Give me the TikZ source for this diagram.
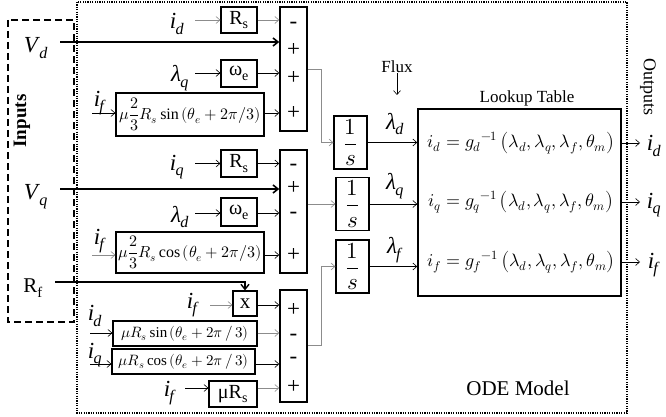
\documentclass[tikz,border=0pt]{standalone}
\usepackage{fontspec}
\usepackage{unicode-math}
\setmainfont{Liberation Serif}
\setmathfont{Latin Modern Math}
\usetikzlibrary{arrows.meta}
\newcommand\iv[2]{\textit{#1}\textsubscript{\kern-0.05em\textit{#2}}}
\begin{document}
\begin{tikzpicture}[x=1pt,y=-1pt,
  blk/.style={draw, line width=1.2pt, inner sep=0pt},
  sumblk/.style={draw, line width=1.5pt, minimum width=27pt, inner sep=0pt},
  ar/.style={-{Straight Barb[length=4pt,width=7pt]}, line width=0.6pt},
  gar/.style={ar, draw=black!45},
  thk/.style={-{Straight Barb[length=5pt,width=8pt]}, line width=1.6pt},
  lbl/.style={font=\fontsize{23}{24}\selectfont, inner sep=0pt},
  sgn/.style={font=\fontsize{23}{24}\selectfont, inner sep=0pt},
  btx/.style={font=\fontsize{20}{21}\selectfont},
  ftx/.style={font=\fontsize{16}{17}\selectfont},
  eqtx/.style={font=\fontsize{18}{19}\selectfont, inner sep=0pt},
  frac/.style={blk, minimum width=33pt, minimum height=53pt, font=\fontsize{23}{24}\selectfont}
]
\useasboundingbox (0,0) rectangle (666,417);

% outer boxes
\draw[line width=1.2pt, dash pattern=on 1.2pt off 1.2pt] (77,2) rectangle (627,413);
\draw[line width=1.5pt, dash pattern=on 7pt off 4pt] (8,20) rectangle (74,322);
\node[rotate=90, font=\fontsize{19}{20}\selectfont\bfseries] (inputs) at (22,121) {Inputs};

% summing blocks
\node[sumblk, minimum height=124pt] (sum1) at (293.5,69) {};
\node[sumblk, minimum height=123pt] (sum2) at (293.5,211.5) {};
\node[sumblk, minimum height=112pt] (sum3) at (293.5,346) {};

\node[sgn] (s1a) at (293.5,25) {-};
\node[sgn] (s1b) at (293.5,50) {+};
\node[sgn] (s1c) at (293.5,78) {+};
\node[sgn] (s1d) at (293.5,113) {+};
\node[sgn] (s2a) at (293.5,167) {-};
\node[sgn] (s2b) at (293.5,188) {+};
\node[sgn] (s2c) at (293.5,215) {-};
\node[sgn] (s2d) at (293.5,255) {+};
\node[sgn] (s3a) at (293.5,310) {+};
\node[sgn] (s3b) at (293.5,337) {-};
\node[sgn] (s3c) at (293.5,360) {-};
\node[sgn] (s3d) at (293.5,387) {+};

% ---- row 1
\node[lbl] (id1) at (177,24) {\iv{i}{d}};
\coordinate (cid1) at (195,20);
\node[blk, btx, minimum width=36pt, minimum height=26pt] (rs1) at (239,20) {R\textsubscript{s}};
\draw[gar] (cid1) -- (rs1.west);
\draw[gar] (rs1.east) -- (rs1.east -| sum1.west);

\node[lbl] (vd) at (36,48) {\iv{V}{d}};
\coordinate (cvd) at (60,42);
\draw[thk] (cvd) -- (cvd -| sum1.west);

\node[lbl] (lq1) at (180,78) {\iv{λ}{q}};
\coordinate (clq1) at (195,73);
\node[blk, btx, minimum width=36pt, minimum height=27pt] (we1) at (239,73.5) {ω\textsubscript{e}};
\draw[ar] (clq1) -- (clq1 -| we1.west);
\draw[ar] (clq1 -| we1.east) -- (clq1 -| sum1.west);

\node[lbl] (if1) at (100,103) {\iv{i}{f}};
\coordinate (cif1) at (92,113);
\node[blk, ftx, minimum width=148pt, minimum height=43pt] (sinb) at (190,114.5) {$\displaystyle\mu\frac{2}{3}R_s\sin\left(\theta_e+2\pi/3\right)$};
\draw[ar] (cif1) -- (cif1 -| sinb.west);
\draw[ar] (cif1 -| sinb.east) -- (cif1 -| sum1.west);

\node[frac] (is1) at (350.5,142.5) {$\displaystyle\frac{1}{s}$};
\coordinate (cs1) at (321,69);
\draw[gar] (cs1 -| sum1.east) -- (cs1) |- (is1.west);

% ---- row 2
\node[lbl] (iq1) at (177,167) {\iv{i}{q}};
\coordinate (ciq1) at (195,163.5);
\node[blk, btx, minimum width=36pt, minimum height=27pt] (rs2) at (239,163.5) {R\textsubscript{s}};
\draw[ar] (ciq1) -- (rs2.west);
\draw[ar] (rs2.east) -- (rs2.east -| sum2.west);

\node[lbl] (vq) at (36,197) {\iv{V}{q}};
\coordinate (cvq) at (60,189);
\draw[thk] (cvq) -- (cvq -| sum2.west);

\node[lbl] (ld1) at (180,217) {\iv{λ}{d}};
\coordinate (cld1) at (195,213);
\node[blk, btx, minimum width=36pt, minimum height=28pt] (we2) at (239,212) {ω\textsubscript{e}};
\draw[ar] (cld1) -- (cld1 -| we2.west);
\draw[ar] (cld1 -| we2.east) -- (cld1 -| sum2.west);

\node[lbl] (if2) at (100,241) {\iv{i}{f}};
\coordinate (cif2) at (92,255);
\node[blk, ftx, minimum width=148pt, minimum height=41pt] (cosb) at (190,252.5) {$\displaystyle\mu\frac{2}{3}R_s\cos\left(\theta_e+2\pi/3\right)$};
\draw[gar] (cif2) -- (cif2 -| cosb.west);
\draw[ar] (cif2 -| cosb.east) -- (cif2 -| sum2.west);

\node[frac] (is2) at (352.5,204) {$\displaystyle\frac{1}{s}$};
\draw[gar] (is2.west -| sum2.east) -- (is2.west);

% ---- row 3
\node[font=\fontsize{21}{22}\selectfont, inner sep=0pt] (rf) at (33,288) {R\textsubscript{f}};
\coordinate (crf) at (55,282);
\node[blk, font=\fontsize{21}{22}\selectfont, minimum width=24pt, minimum height=25pt] (xb) at (245,303.5) {x};
\draw[thk, line width=1.4pt] (crf) -| (xb.north);

\node[lbl] (if3) at (193,305) {\iv{i}{f}};
\coordinate (cif3) at (210,305);
\draw[gar] (cif3) -- (cif3 -| xb.west);
\draw[ar] (cif3 -| xb.east) -- (cif3 -| sum3.west);

\node[lbl] (id2) at (95,316) {\iv{i}{d}};
\coordinate (cid2) at (90,333);
\node[blk, font=\fontsize{15}{16}\selectfont, minimum width=144pt, minimum height=25pt] (sinb2) at (185,333.5) {$\mu R_s\sin\left(\theta_e+2\pi\,/\,3\right)$};
\draw[ar] (cid2) -- (cid2 -| sinb2.west);
\draw[gar] (cid2 -| sinb2.east) -- (cid2 -| sum3.west);

\node[lbl] (iq2) at (95,355) {\iv{i}{q}};
\coordinate (ciq2) at (90,364);
\node[blk, font=\fontsize{15}{16}\selectfont, minimum width=143pt, minimum height=25pt] (cosb2) at (183.5,361.5) {$\mu R_s\cos\left(\theta_e+2\pi\,/\,3\right)$};
\draw[ar] (ciq2) -- (ciq2 -| cosb2.west);
\draw[ar] (ciq2 -| cosb2.east) -- (ciq2 -| sum3.west);

\node[lbl] (if4) at (170,393) {\iv{i}{f}};
\coordinate (cif4) at (185,388);
\node[blk, btx, minimum width=48pt, minimum height=26pt] (murs) at (233,394) {μR\textsubscript{s}};
\draw[ar] (cif4) -- (cif4 -| murs.west);
\draw[gar] (cif4 -| murs.east) -- (cif4 -| sum3.west);

\node[frac] (is3) at (352.5,266.5) {$\displaystyle\frac{1}{s}$};
\coordinate (cs3) at (321,345);
\draw[gar] (cs3 -| sum3.east) -- (cs3) |- (is3.west);

% ---- right side
\node[blk, line width=1.5pt, minimum width=203pt, minimum height=187pt] (lut) at (519.5,202.5) {};
\node[font=\fontsize{17}{18}\selectfont, inner sep=0pt] (luttl) at (527,98) {Lookup Table};
\node[font=\fontsize{17}{18}\selectfont, inner sep=0pt] (flux) at (397,67) {Flux};
\coordinate (cfl) at (397,95);
\draw[ar] (flux.south) -- (cfl);

\node[lbl] (ld2) at (395,124) {\iv{λ}{d}};
\node[lbl] (lq2) at (395,186) {\iv{λ}{q}};
\node[lbl] (lf2) at (395,250) {\iv{λ}{f}};
\draw[ar] (is1.east) -- (is1.east -| lut.west);
\draw[ar] (is2.east) -- (is2.east -| lut.west);
\draw[ar] (is3.east) -- (is3.east -| lut.west);

\node[eqtx] (eqd) at (521,143) {$i_d=g_d{}^{-1}\left(\lambda_d,\lambda_q,\lambda_f,\theta_m\right)$};
\node[eqtx] (eqq) at (521,202) {$i_q=g_q{}^{-1}\left(\lambda_d,\lambda_q,\lambda_f,\theta_m\right)$};
\node[eqtx] (eqf) at (521,262) {$i_f=g_f{}^{-1}\left(\lambda_d,\lambda_q,\lambda_f,\theta_m\right)$};

\coordinate (cod) at (640,143);
\coordinate (coq) at (640,202);
\coordinate (cof) at (640,262);
\draw[ar] (lut.east |- cod) -- (cod);
\draw[ar] (lut.east |- coq) -- (coq);
\draw[ar] (lut.east |- cof) -- (cof);
\node[lbl] (od) at (654,146) {\iv{i}{d}};
\node[lbl] (oq) at (654,205) {\iv{i}{q}};
\node[lbl] (of) at (654,265) {\iv{i}{f}};
\node[rotate=-90, font=\fontsize{18}{19}\selectfont, inner sep=0pt] (outputs) at (648,87) {Outputs};

\node[font=\fontsize{21}{22}\selectfont, inner sep=0pt] (ode) at (518,388) {ODE Model};
\end{tikzpicture}
\end{document}
